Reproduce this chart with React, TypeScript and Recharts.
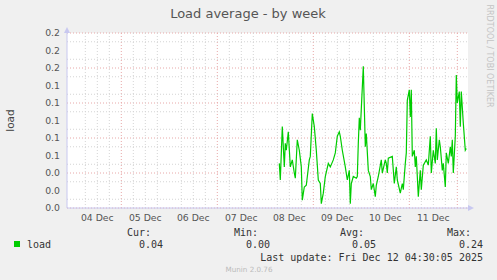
import { LineChart, Line, XAxis, YAxis, CartesianGrid, ReferenceLine } from 'recharts';

// hours since 04 Dec 00:00
const loadHours = [
  103, 103.5, 104.5, 105.5, 106, 106.5, 107.5, 108.5, 109.5, 110.5,
  111, 112, 113, 114, 114.5, 115.5, 116.5, 118, 118.5, 119.5,
  120.5, 121.5, 122.5, 123.5, 124, 125, 126, 127.5, 128.5, 130,
  131, 132, 133, 133.5, 134.5, 136, 137, 138, 138.5, 139,
  140, 141.5, 142, 142.5, 143, 143.5, 145, 146, 146.5, 147.5,
  148.5, 149, 150, 151, 151.5, 152.5, 154, 154.5, 156, 156.5,
  157, 157.5, 159.5, 160.5, 161.5, 162, 163.5, 164.5, 165, 166,
  166.5, 167, 168, 168.5, 169, 169.5, 170.5, 171, 171.5, 172.5,
  173.5, 174, 175, 176.5, 177.5, 178.5, 179, 180, 181, 181.5,
  182, 183, 183.5, 184.5, 185, 186, 186.5, 187.5, 188.5, 189,
  189.5, 190, 191, 191.5, 192, 193, 193.5, 194, 195, 196, 196.5,
];

const loadValues = [
  0.051, 0.032, 0.093, 0.047, 0.074, 0.066, 0.087, 0.047, 0.055, 0.040,
  0.034, 0.078, 0.066, 0.047, 0.009, 0.024, 0.026, 0.055, 0.059, 0.108,
  0.093, 0.066, 0.032, 0.028, 0.005, 0.017, 0.036, 0.051, 0.047, 0.055,
  0.063, 0.082, 0.087, 0.082, 0.066, 0.047, 0.032, 0.043, 0.005, 0.028,
  0.036, 0.034, 0.036, 0.074, 0.103, 0.089, 0.162, 0.070, 0.085, 0.043,
  0.036, 0.021, 0.028, 0.013, 0.026, 0.036, 0.055, 0.040, 0.055, 0.051,
  0.040, 0.057, 0.059, 0.028, 0.047, 0.032, 0.017, 0.028, 0.021, 0.051,
  0.063, 0.123, 0.135, 0.104, 0.135, 0.059, 0.066, 0.047, 0.059, 0.013,
  0.043, 0.021, 0.049, 0.055, 0.049, 0.082, 0.040, 0.066, 0.051, 0.091,
  0.055, 0.078, 0.070, 0.043, 0.051, 0.024, 0.063, 0.051, 0.070, 0.059,
  0.078, 0.040, 0.082, 0.152, 0.120, 0.133, 0.093, 0.133, 0.097, 0.066, 0.068,
];

const dayLabels = ['04 Dec', '05 Dec', '06 Dec', '07 Dec', '08 Dec', '09 Dec', '10 Dec', '11 Dec'];
const yTicks = [0, 0.02, 0.04, 0.06, 0.08, 0.1, 0.12, 0.14, 0.16, 0.18, 0.2];
const yMinor = [0.01, 0.03, 0.05, 0.07, 0.09, 0.11, 0.13, 0.15, 0.17, 0.19];

const statLabels = ['Cur:', 'Min:', 'Avg:', 'Max:'];
const statValues = ['0.04', '0.00', '0.05', '0.24'];

const midnights = dayLabels.map((_, i) => i * 24).concat([192]);
const noons = dayLabels.map((_, i) => i * 24 + 12);
const sixHours = Array.from({ length: 33 }, (_, i) => i * 6).filter((h) => h % 24 !== 0);

const AXIS = '#c8c8f0';
const MINOR = '#d4d4d4';
const MAJOR = '#e8a8a8';
const SANS = 'DejaVu Sans, sans-serif';
const MONO = 'DejaVu Sans Mono, monospace';

export default function App() {
  const data = loadHours.map((h, i) => ({ h, load: loadValues[i] }));
  const statRight = [163, 270, 376, 483];

  return (
    <div style={{ position: 'absolute', left: 0, top: 0, width: 497, height: 280, background: '#f0f0f0' }}>
      <LineChart width={497} height={280} data={data} margin={{ top: 33, right: 29, bottom: 52, left: 27 }}>
        <CartesianGrid fill="#ffffff" stroke={MAJOR} strokeDasharray="1 2"
          horizontalValues={yTicks} verticalValues={midnights} />
        {sixHours.map((h) => (
          <ReferenceLine key={'x' + h} x={h} stroke={MINOR} strokeDasharray="1 2" />
        ))}
        {yMinor.map((v) => (
          <ReferenceLine key={'y' + v} y={v} stroke={MINOR} strokeDasharray="1 2" />
        ))}
        <XAxis dataKey="h" type="number" domain={[-3.15, 197.35]} ticks={noons} height={20}
          tickFormatter={(v: number) => dayLabels[Math.round((v - 12) / 24)]}
          tickLine={false} tickSize={0} tickMargin={6} axisLine={{ stroke: AXIS }}
          tick={{ fill: '#555', fontSize: 9.3, fontFamily: SANS }} />
        <YAxis domain={[0, 0.2]} ticks={yTicks} width={40} tickLine={false} tickSize={0} tickMargin={7}
          tickFormatter={(v: number) => v.toFixed(1)} axisLine={{ stroke: AXIS }}
          tick={{ fill: '#555', fontSize: 9.3, fontFamily: SANS }} />
        <Line dataKey="load" stroke="#00cc00" strokeWidth={1.2} dot={false} isAnimationActive={false} />
      </LineChart>
      <svg width={497} height={280} style={{ position: 'absolute', left: 0, top: 0, pointerEvents: 'none' }}>
        <polygon points="64,33 70,33 67,27" fill={AXIS} />
        <polygon points="468,205 468,211 474,208" fill={AXIS} />
        <text x={248} y={13.5} textAnchor="middle" dominantBaseline="central" fontSize={13} fontFamily={SANS} fill="#555">
          Load average - by week
        </text>
        <text x={489} y={56} textAnchor="middle" dominantBaseline="central" fontSize={8} fontFamily={SANS} fill="#c4c4c4"
          transform="rotate(90 489 56)">
          RRDTOOL / TOBI OETIKER
        </text>
        <text x={9.5} y={120.5} textAnchor="middle" dominantBaseline="central" fontSize={10.5} fontFamily={SANS} fill="#444"
          transform="rotate(-90 9.5 120.5)">
          load
        </text>
        <rect x={14} y={241} width={6} height={6} fill="#00cc00" />
        <text x={27} y={244} dominantBaseline="central" fontSize={10} fontFamily={MONO} fill="#333">load</text>
        {statLabels.map((s, i) => (
          <text key={s} x={statRight[i] - 12} y={232} textAnchor="end" dominantBaseline="central"
            fontSize={10} fontFamily={MONO} fill="#333">{s}</text>
        ))}
        {statValues.map((s, i) => (
          <text key={i} x={statRight[i]} y={244} textAnchor="end" dominantBaseline="central"
            fontSize={10} fontFamily={MONO} fill="#333">{s}</text>
        ))}
        <text x={483} y={257} textAnchor="end" dominantBaseline="central" fontSize={10} fontFamily={MONO} fill="#333">
          Last update: Fri Dec 12 04:30:05 2025
        </text>
        <text x={249} y={269} textAnchor="middle" dominantBaseline="central" fontSize={7.2} fontFamily={SANS} fill="#bbb">
          Munin 2.0.76
        </text>
      </svg>
    </div>
  );
}
